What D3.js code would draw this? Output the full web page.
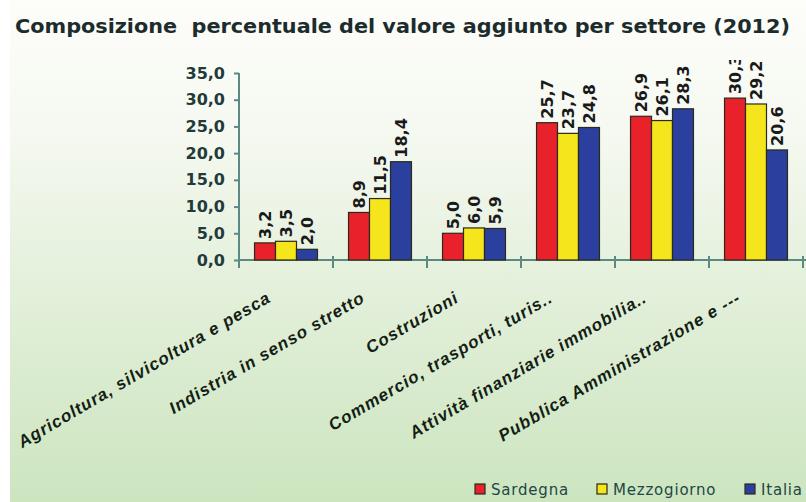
<!DOCTYPE html>
<html><head><meta charset="utf-8">
<script src="https://cdn.jsdelivr.net/npm/d3@7/dist/d3.min.js"></script>
<style>body{margin:0;background:#fff}svg{display:block}</style>
</head><body><svg id="c" width="806" height="502"></svg>
<script>
const categories = ["Agricoltura, silvicoltura e pesca","Indistria in senso stretto","Costruzioni","Commercio, trasporti, turis..","Attività finanziarie immobilia..","Pubblica Amministrazione e ---"];
const seriesNames = ["Sardegna","Mezzogiorno","Italia"];
const sardegna = [3.2, 8.9, 5.0, 25.7, 26.9, 30.3];
const mezzogiorno = [3.5, 11.5, 6.0, 23.7, 26.1, 29.2];
const italia = [2.0, 18.4, 5.9, 24.8, 28.3, 20.6];
const yTicks = [0,5,10,15,20,25,30,35];
const colors = ["#e8212a","#f4e51c","#2b3f9e"];
const titleText = "Composizione  percentuale del valore aggiunto per settore (2012)";

const values = [sardegna, mezzogiorno, italia];
const fmt = v => d3.format(".1f")(v).replace(".", ",");
const svg = d3.select("#c");
const defs = svg.append("defs");
const g = defs.append("linearGradient").attr("id","bg").attr("x1",0).attr("y1",0).attr("x2",0).attr("y2",1);
g.append("stop").attr("offset","0%").attr("stop-color","#fdfdfa");
g.append("stop").attr("offset","25%").attr("stop-color","#f6f9f1");
g.append("stop").attr("offset","60%").attr("stop-color","#e2efd9");
g.append("stop").attr("offset","100%").attr("stop-color","#cce5bf");
defs.append("clipPath").attr("id","plotclip").append("rect").attr("x",0).attr("y",60).attr("width",806).attr("height",442);
svg.append("rect").attr("width",806).attr("height",502).attr("fill","#ffffff");
svg.append("rect").attr("x",10).attr("width",796).attr("height",502).attr("fill","url(#bg)");

svg.append("text").attr("x",15).attr("y",33)
  .attr("textLength",775).attr("lengthAdjust","spacingAndGlyphs")
  .style("white-space","pre").attr("xml:space","preserve")
  .attr("font-family","'DejaVu Sans Condensed','DejaVu Sans',sans-serif").attr("font-stretch","condensed")
  .attr("font-weight","bold").attr("font-size",20).attr("fill","#1c2c2c")
  .text(titleText);

const x = d3.scaleBand().domain(categories).range([239, 803]).paddingInner(0).paddingOuter(0);
const x1 = d3.scaleBand().domain(seriesNames).range([0, x.bandwidth()]).paddingInner(0).paddingOuter(0.74);
const y = d3.scaleLinear().domain([0, 35]).range([260, 73]);
const axisColor = "#5b8a86";

// y axis
const ya = svg.append("g").attr("transform","translate(239,0)")
  .call(d3.axisLeft(y).tickValues(yTicks).tickSize(5).tickPadding(9).tickFormat(fmt));
ya.select(".domain").attr("stroke",axisColor).attr("stroke-width",2).attr("d",`M0,${y(0)+8}V${y(35)}`);
ya.selectAll(".tick line").attr("stroke",axisColor).attr("stroke-width",2);
ya.selectAll(".tick text").attr("font-family","'DejaVu Sans',sans-serif").attr("font-weight","bold").attr("font-size",16).attr("fill","#223a3a");

// x axis line & ticks
svg.append("line").attr("x1",239).attr("x2",806).attr("y1",y(0)).attr("y2",y(0)).attr("stroke",axisColor).attr("stroke-width",2);
svg.selectAll("line.xt").data(categories).join("line").attr("class","xt")
  .attr("x1",d=>x(d)+x.bandwidth()).attr("x2",d=>x(d)+x.bandwidth())
  .attr("y1",y(0)-4).attr("y2",y(0)+8).attr("stroke",axisColor).attr("stroke-width",2);

// bars
const labelsG = svg.append("g").attr("clip-path","url(#plotclip)");
seriesNames.forEach((s, si) => {
  const data = categories.map((c, i) => ({c, v: values[si][i]}));
  svg.selectAll(null).data(data).join("rect")
    .attr("x", d => x(d.c) + x1(s)).attr("width", x1.bandwidth())
    .attr("y", d => y(d.v)).attr("height", d => y(0) - y(d.v))
    .attr("fill", colors[si]).attr("stroke","#2a2a1a").attr("stroke-width",1.2);
  labelsG.selectAll(null).data(data).join("text")
    .attr("transform", d => `translate(${x(d.c)+x1(s)+x1.bandwidth()/2+6},${y(d.v)-4}) rotate(-90)`)
    .attr("font-family","'DejaVu Sans',sans-serif").attr("font-weight","bold").attr("font-size",16)
    .attr("fill","#1a1a1a").text(d => fmt(d.v));
});

// x labels
svg.selectAll("text.xl").data(categories).join("text").attr("class","xl")
  .attr("transform", d => `translate(${x(d)+x.bandwidth()/2-14},${y(0)+41}) rotate(-30.5)`)
  .attr("text-anchor","end")
  .attr("font-family","'Liberation Sans',Arial,sans-serif").attr("font-weight","bold").attr("font-style","italic")
  .attr("font-size",17).attr("letter-spacing",1).attr("fill","#141e14").text(d => d);

// legend
const legX = [475, 597, 745];
seriesNames.forEach((s, i) => {
  svg.append("rect").attr("x",legX[i]).attr("y",484).attr("width",10).attr("height",10)
    .attr("fill",colors[i]).attr("stroke","#2a2a1a").attr("stroke-width",1.2);
  svg.append("text").attr("x",legX[i]+16).attr("y",495)
    .attr("font-family","'DejaVu Sans',sans-serif").attr("font-size",15).attr("letter-spacing",0.8)
    .attr("fill","#1f4646").text(s);
});
</script></body></html>
